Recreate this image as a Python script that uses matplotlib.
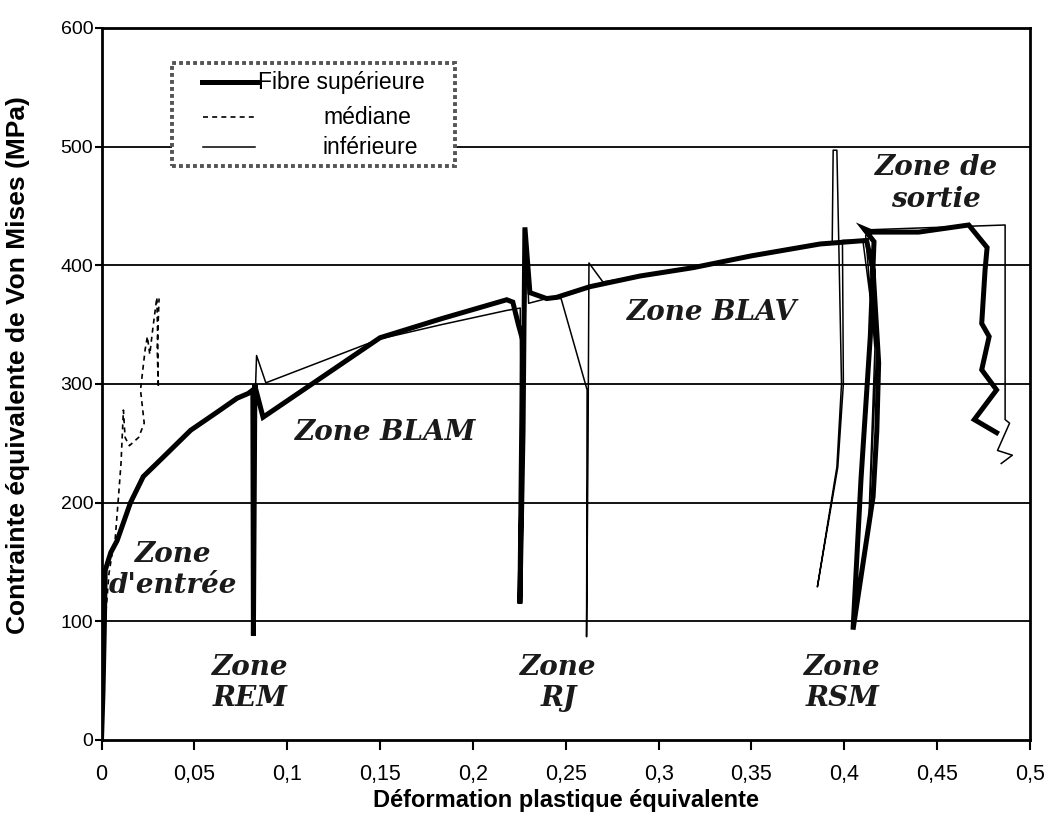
import matplotlib
matplotlib.use("Agg")
import matplotlib.pyplot as plt
from matplotlib.patches import Rectangle
from matplotlib.lines import Line2D

# ---------------- data ----------------
sup_x = [0, 0.0008, 0.0015, 0.002, 0.005, 0.0084, 0.0156, 0.0225, 0.033, 0.048, 0.062, 0.073, 0.079,
         0.0815, 0.0818, 0.0826, 0.0830, 0.087, 0.150, 0.183, 0.2182, 0.2215, 0.2245, 0.2268, 0.2262,
         0.2253, 0.2270, 0.2280, 0.2307, 0.2397, 0.245, 0.263, 0.290, 0.3185, 0.350, 0.387, 0.412,
         0.4155, 0.4185, 0.4175, 0.4155, 0.4047, 0.4090, 0.4140, 0.4160, 0.4105, 0.415, 0.440, 0.467,
         0.4769, 0.4758, 0.4740, 0.4780, 0.4740, 0.4820, 0.4700, 0.4820]
sup_y = [0, 40, 93, 143, 158, 168, 200, 222, 238, 261, 276, 288, 292,
         295, 88, 300, 296, 272, 339, 355, 371, 369, 350, 337, 250,
         115, 260, 432, 377, 372, 373, 382, 391, 398, 408, 418, 421,
         396, 318, 260, 205, 93, 220, 340, 420, 431, 428, 428, 434,
         415, 396, 351, 340, 312, 295, 270, 259]

med_x = [0, 0.0008, 0.002, 0.004, 0.006, 0.0073, 0.009, 0.0105, 0.0118, 0.0127, 0.015, 0.020, 0.023,
         0.021, 0.0235, 0.0247, 0.026, 0.0275, 0.0298, 0.0302, 0.0306, 0.0300, 0.0310]
med_y = [0, 60, 100, 140, 160, 168, 202, 233, 278, 255, 248, 255, 267,
         295, 329, 340, 325, 345, 373, 343, 297, 330, 372]

inf_x = [0, 0.0015, 0.002, 0.005, 0.0084, 0.0156, 0.0225, 0.033, 0.048, 0.062, 0.073, 0.079,
         0.0815, 0.0822, 0.0830, 0.0835, 0.0885, 0.150, 0.183, 0.2182, 0.2255, 0.2262, 0.2268,
         0.2290, 0.2300, 0.2397, 0.2475, 0.2615, 0.2612, 0.2620, 0.2625, 0.270, 0.290, 0.3185,
         0.350, 0.387, 0.3935, 0.3940, 0.3960, 0.3970, 0.3985, 0.3960, 0.3855, 0.3965, 0.3995,
         0.3990, 0.410, 0.4175, 0.4130, 0.4165, 0.4115, 0.414, 0.450, 0.4866, 0.4866, 0.4890,
         0.4825, 0.4905, 0.4845]
inf_y = [0, 93, 143, 158, 168, 200, 222, 238, 261, 276, 288, 292,
         295, 150, 300, 324, 301, 338, 350, 362, 364, 120, 250,
         420, 368, 372, 372, 295, 87, 250, 402, 386, 391, 398,
         408, 418, 420, 497, 497, 421, 300, 230, 129, 230, 300,
         421, 421, 330, 175, 330, 425, 430, 432, 434, 270, 267,
         244, 240, 233]

x_ticks = [0, 0.05, 0.1, 0.15, 0.2, 0.25, 0.3, 0.35, 0.4, 0.45, 0.5]
x_tick_labels = ["0", "0,05", "0,1", "0,15", "0,2", "0,25", "0,3", "0,35", "0,4", "0,45", "0,5"]
y_ticks = [0, 100, 200, 300, 400, 500, 600]
y_tick_labels = ["0", "100", "200", "300", "400", "500", "600"]

series_labels = ["Fibre supérieure", "médiane", "inférieure"]
x_label = "Déformation plastique équivalente"
y_label = "Contrainte équivalente de Von Mises (MPa)"

zones = [("Zone\nd'entrée", 0.0385, 143), ("Zone BLAM", 0.153, 259), ("Zone BLAV", 0.329, 360),
         ("Zone\nREM", 0.080, 48), ("Zone\nRJ", 0.246, 48), ("Zone\nRSM", 0.399, 48),
         ("Zone de\nsortie", 0.4495, 469)]

# ---------------- figure ----------------
W, H = 1057, 835
fig = plt.figure(figsize=(W / 100, H / 100), dpi=100)
fig.patch.set_facecolor("white")
L, R, T, B = 101.5, 1030, 28, 740
ax = fig.add_axes([L / W, 1 - B / H, (R - L) / W, (B - T) / H])
ax.set_xlim(0, 0.5)
ax.set_ylim(0, 600)

for yv in y_ticks[1:-1]:
    ax.axhline(yv, color="black", lw=1.3, zorder=1)

ax.plot(sup_x, sup_y, color="black", lw=3.6, solid_joinstyle="miter", zorder=4)
ax.plot(inf_x, inf_y, color="black", lw=1.1, zorder=5)
ax.plot(med_x, med_y, color="black", lw=1.2, ls=(0, (3, 2.5)), zorder=5)

sans = ["Liberation Sans", "DejaVu Sans"]
ax.set_xticks(x_ticks)
ax.set_xticklabels(x_tick_labels, fontsize=15.5, family=sans)
ax.set_yticks(y_ticks)
ax.set_yticklabels(y_tick_labels, fontsize=14, family=sans)
ax.tick_params(axis="x", direction="out", length=7, width=1.5, pad=10)
ax.tick_params(axis="y", direction="out", length=5, width=1.5, pad=1)
for s in ax.spines.values():
    s.set_linewidth(2.0)
    s.set_color("black")

fig.text(566 / W, 1 - 801 / H, x_label, ha="center", va="center", fontsize=17,
         fontweight="bold", family=sans)
fig.text(18 / W, 1 - 365 / H, y_label, ha="center", va="center", rotation=90, fontsize=19,
         fontweight="bold", family=sans)

for txt, xv, yv in zones:
    ax.text(xv, yv, txt, ha="center", va="center", fontsize=20, fontweight="bold",
            fontstyle="italic", family="DejaVu Serif", color="#1a1a1a", linespacing=1.2, zorder=6)

# legend box (drawn in axes fraction)
def px2ax(px, py):
    return (px - L) / (R - L), (B - py) / (B - T)

x0, y1 = px2ax(172, 63)
x1, y0 = px2ax(455, 166)
ax.add_patch(Rectangle((x0, y0), x1 - x0, y1 - y0, transform=ax.transAxes, facecolor="white",
                       edgecolor="#555555", lw=2.8, ls=(0, (1, 0.8)), zorder=7))
rows = [(202, 258, 82, 3.6, "-", 258), (203, 257, 117, 1.2, (0, (3, 2.5)), 323),
        (203, 255, 147, 1.1, "-", 323)]
for (hx0, hx1, hy, lw, ls, tx), lab in zip(rows, series_labels):
    a0, ay = px2ax(hx0, hy)
    a1, _ = px2ax(hx1, hy)
    ax.add_line(Line2D([a0, a1], [ay, ay], transform=ax.transAxes, color="black", lw=lw, ls=ls,
                       zorder=8))
    tx_a, _ = px2ax(tx, hy)
    ax.text(tx_a, ay, lab, transform=ax.transAxes, ha="left", va="center", fontsize=16.5,
            family=sans, zorder=8)

fig.savefig("out.png", dpi=100, facecolor="white")
